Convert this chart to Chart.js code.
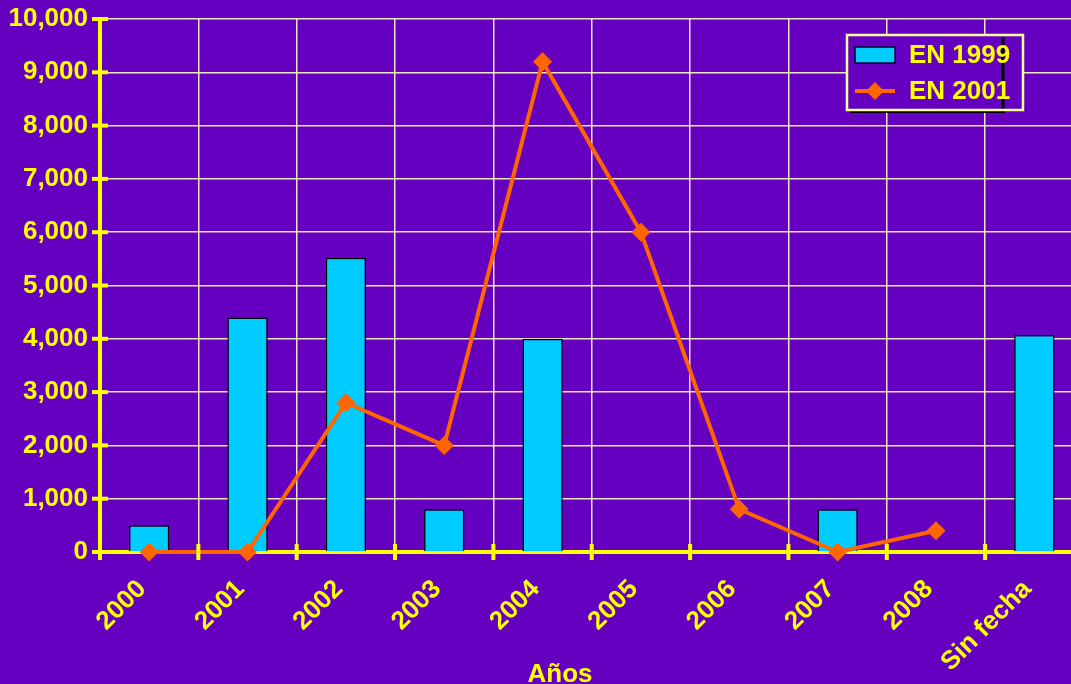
<!DOCTYPE html>
<html>
<head>
<meta charset="utf-8">
<script src="https://cdn.jsdelivr.net/npm/chart.js@4.4.1/dist/chart.umd.min.js"></script>
<style>
  html, body { margin: 0; padding: 0; background: #6600c0; overflow: hidden; }
  #wrap { position: relative; width: 1093px; height: 684px; }
</style>
</head>
<body>
<div id="wrap"><canvas id="chart"></canvas></div>
<script>
const years = ['2000', '2001', '2002', '2003', '2004', '2005', '2006', '2007', '2008', 'Sin fecha'];
const en1999 = [500, 4400, 5520, 800, 4000, null, null, 800, null, 4070];
const en2001 = [0, 0, 2800, 2000, 9200, 6000, 800, 0, 400, null];
const yTicks = [0, 1000, 2000, 3000, 4000, 5000, 6000, 7000, 8000, 9000, 10000];

const YELLOW = '#ffff00';
const GRID = 'rgba(255, 255, 190, 0.9)';
const FAMILY = '"Liberation Sans", Arial, sans-serif';
const FONT = 'bold 26px ' + FAMILY;

// tick marks that cross the axis lines, plus the legend box and axis title
const extras = {
  id: 'extras',
  afterDraw(chart) {
    const { ctx, chartArea, scales } = chart;
    const x = scales.x, y = scales.y;
    ctx.save();
    ctx.strokeStyle = YELLOW;
    ctx.lineWidth = 4;
    // y ticks
    yTicks.forEach(v => {
      const py = y.getPixelForValue(v);
      ctx.beginPath();
      ctx.moveTo(chartArea.left - 8, py);
      ctx.lineTo(chartArea.left + 8, py);
      ctx.stroke();
    });
    // x ticks at category boundaries
    for (let i = 0; i <= years.length; i++) {
      const px = x.getPixelForValue(i - 0.5);
      ctx.beginPath();
      ctx.moveTo(px, chartArea.bottom - 8);
      ctx.lineTo(px, chartArea.bottom + 8);
      ctx.stroke();
    }

    // legend
    const lx = 847, ly = 35, lw = 176, lh = 75;
    ctx.fillStyle = '#6600c0';
    ctx.fillRect(lx, ly, lw, lh);
    ctx.strokeStyle = '#000000';
    ctx.lineWidth = 3;
    ctx.beginPath();
    ctx.moveTo(1003, 37); ctx.lineTo(1003, 109);
    ctx.stroke();
    ctx.lineWidth = 2;
    ctx.beginPath();
    ctx.moveTo(850, 112); ctx.lineTo(1005, 112);
    ctx.stroke();
    ctx.strokeStyle = '#ffff99';
    ctx.lineWidth = 2.5;
    ctx.strokeRect(lx, ly, lw, lh);

    const bars = chart.data.datasets[0];
    const line = chart.data.datasets[1];
    ctx.font = FONT;
    ctx.textBaseline = 'middle';
    ctx.textAlign = 'left';
    // bar entry
    ctx.fillStyle = bars.backgroundColor;
    ctx.fillRect(855, 47, 40, 16);
    ctx.strokeStyle = '#000033';
    ctx.lineWidth = 1.5;
    ctx.strokeRect(855, 47, 40, 16);
    ctx.fillStyle = YELLOW;
    ctx.fillText(bars.label, 909, 56);
    // line entry
    ctx.strokeStyle = line.borderColor;
    ctx.lineWidth = 4;
    ctx.beginPath();
    ctx.moveTo(855, 91); ctx.lineTo(895, 91);
    ctx.stroke();
    ctx.fillStyle = line.borderColor;
    ctx.beginPath();
    ctx.moveTo(875, 82); ctx.lineTo(884, 91); ctx.lineTo(875, 100); ctx.lineTo(866, 91);
    ctx.closePath();
    ctx.fill();
    ctx.fillStyle = YELLOW;
    ctx.fillText(line.label, 909, 92);

    // axis title
    ctx.textAlign = 'center';
    ctx.textBaseline = 'alphabetic';
    ctx.fillText('Años', 560, 682);
    ctx.restore();
  }
};

new Chart(document.getElementById('chart'), {
  type: 'bar',
  data: {
    labels: years,
    datasets: [
      {
        label: 'EN 1999',
        data: en1999,
        backgroundColor: '#00ccff',
        borderColor: '#000000',
        borderWidth: 1.5,
        barPercentage: 0.41,
        categoryPercentage: 1,
        order: 1
      },
      {
        type: 'line',
        label: 'EN 2001',
        data: en2001,
        borderColor: '#ff6600',
        backgroundColor: '#ff6600',
        borderWidth: 4,
        pointStyle: 'rectRot',
        pointRadius: 9.5,
        pointBackgroundColor: '#ff6600',
        pointBorderWidth: 0,
        spanGaps: false,
        clip: false,
        order: 0
      }
    ]
  },
  options: {
    responsive: true,
    maintainAspectRatio: false,
    animation: false,
    layout: { padding: 0 },
    plugins: {
      legend: { display: false },
      tooltip: { enabled: false }
    },
    scales: {
      x: {
        offset: true,
        grid: { offset: true, color: GRID, lineWidth: 1.5, drawTicks: false },
        border: { color: YELLOW, width: 4 },
        ticks: {
          color: YELLOW,
          font: { family: FAMILY, size: 26, weight: 'bold' },
          maxRotation: 45,
          minRotation: 45,
          padding: 22,
          labelOffset: -7,
          autoSkip: false
        },
        afterFit(scale) { scale.height = 132; }
      },
      y: {
        min: 0,
        max: 10000,
        grid: { color: GRID, lineWidth: 1.5, drawTicks: false },
        border: { color: YELLOW, width: 4 },
        ticks: {
          stepSize: 1000,
          color: YELLOW,
          padding: 12,
          font: { family: FAMILY, size: 26, weight: 'bold' },
          callback: v => v.toLocaleString('en-US')
        },
        afterFit(scale) {
          scale.width = 100;
          scale.paddingTop = 19;
          scale.paddingBottom = 0;
        }
      }
    }
  },
  plugins: [extras]
});
</script>
</body>
</html>
